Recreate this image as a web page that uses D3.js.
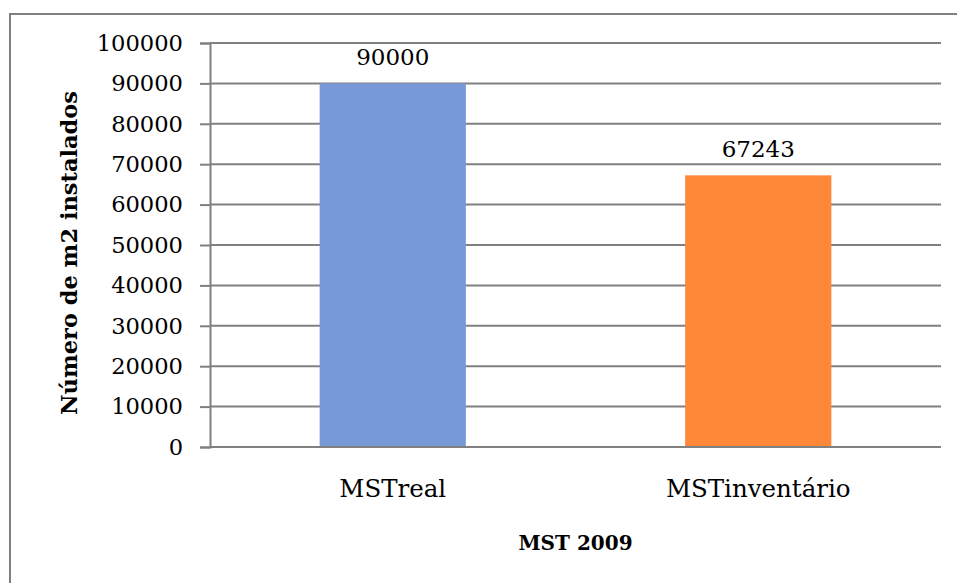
<!DOCTYPE html>
<html>
<head>
<meta charset="utf-8">
<script src="https://cdn.jsdelivr.net/npm/d3@7"></script>
<style>
  body { margin: 0; background: #fff; }
  text { font-family: "DejaVu Serif", "Liberation Serif", serif; fill: #000; }
</style>
</head>
<body>
<div id="chart"></div>
<script>
const categories = ["MSTreal", "MSTinventário"];
const values = [90000, 67243];
const colors = ["#7799D8", "#FF8838"];
const yTicks = [0, 10000, 20000, 30000, 40000, 50000, 60000, 70000, 80000, 90000, 100000];
const xTitle = "MST 2009";
const yTitle = "Número de m2 instalados";

const width = 957;
const height = 583;
const margin = { top: 43, right: 16, bottom: 136, left: 210 };

const svg = d3
  .select("#chart")
  .append("svg")
  .attr("width", width)
  .attr("height", height);

// outer frame, cut off at right and bottom
svg
  .append("rect")
  .attr("x", 10)
  .attr("y", 14)
  .attr("width", width + 20)
  .attr("height", height + 20)
  .attr("fill", "none")
  .attr("stroke", "#808080")
  .attr("stroke-width", 2);

const x = d3
  .scaleBand()
  .domain(categories)
  .range([margin.left, width - margin.right])
  .paddingInner(0.6)
  .paddingOuter(0.3);

const y = d3
  .scaleLinear()
  .domain([0, 100000])
  .range([height - margin.bottom, margin.top]);

// gridlines
svg
  .append("g")
  .selectAll("line")
  .data(yTicks.slice(1))
  .enter()
  .append("line")
  .attr("x1", margin.left)
  .attr("x2", width - margin.right)
  .attr("y1", (d) => y(d))
  .attr("y2", (d) => y(d))
  .attr("stroke", "#808080")
  .attr("stroke-width", 2);

// bars
svg
  .append("g")
  .selectAll("rect")
  .data(values)
  .enter()
  .append("rect")
  .attr("x", (d, i) => x(categories[i]))
  .attr("width", x.bandwidth())
  .attr("y", (d) => y(d))
  .attr("height", (d) => y(0) - y(d))
  .attr("fill", (d, i) => colors[i]);

// value labels
svg
  .append("g")
  .selectAll("text")
  .data(values)
  .enter()
  .append("text")
  .attr("x", (d, i) => x(categories[i]) + x.bandwidth() / 2)
  .attr("y", (d) => y(d) - 18)
  .attr("text-anchor", "middle")
  .style("font-size", "23px")
  .text((d) => d);

// y axis
const yAxis = d3
  .axisLeft(y)
  .tickValues(yTicks)
  .tickFormat(d3.format("d"))
  .tickSize(10)
  .tickPadding(17);

const gy = svg
  .append("g")
  .attr("transform", `translate(${margin.left}, 0)`)
  .call(yAxis);
gy.select(".domain").attr("stroke", "#808080").attr("stroke-width", 2);
gy.selectAll(".tick line").attr("stroke", "#808080").attr("stroke-width", 2);
gy.selectAll(".tick text")
  .style("font-size", "22.6px")
  .style("font-family", "DejaVu Serif, serif")
  .attr("fill", "#000");

// x axis
const xAxis = d3.axisBottom(x).tickSize(0).tickPadding(33);
const gx = svg
  .append("g")
  .attr("transform", `translate(0, ${y(0)})`)
  .call(xAxis);
gx.select(".domain")
  .attr("d", `M${margin.left},0H${width - margin.right}`)
  .attr("stroke", "#808080")
  .attr("stroke-width", 2);
gx.selectAll(".tick text")
  .style("font-size", "24.5px")
  .style("font-family", "DejaVu Serif, serif")
  .attr("fill", "#000");

// axis titles
svg
  .append("text")
  .attr("x", (margin.left + width - margin.right) / 2)
  .attr("y", 550)
  .attr("text-anchor", "middle")
  .style("font-size", "20px")
  .style("font-weight", "bold")
  .text(xTitle);

svg
  .append("text")
  .attr("transform", `translate(77, 253) rotate(-90)`)
  .attr("text-anchor", "middle")
  .style("font-size", "22.5px")
  .style("font-weight", "bold")
  .text(yTitle);
</script>
</body>
</html>
